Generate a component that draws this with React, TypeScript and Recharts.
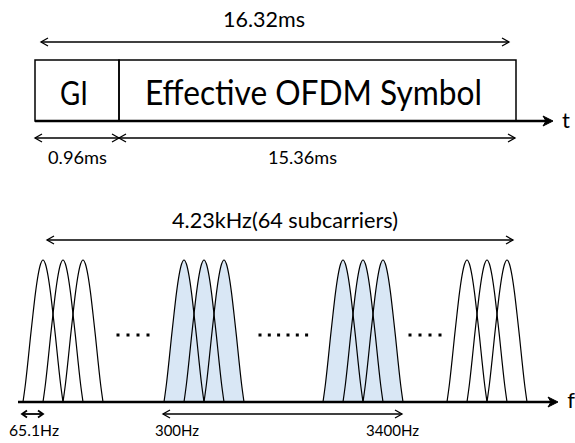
import React from 'react';
import {
  ComposedChart,
  XAxis,
  YAxis,
  Line,
  Area,
  Scatter,
  ReferenceLine,
  ReferenceArea,
} from 'recharts';

// Diagram grid: x to the right, y downwards (same units as the figure)
const W = 575;
const H = 443;
const FONT = 'Lato, "Open Sans", sans-serif';
const BLUE = '#d9e7f5';

// --- time frame ---
const frameEdges = [35, 119, 516]; // GI start | symbol start | symbol end
const frameTop = 60;
const frameBottom = 121;

// --- spectrum ---
const subcarrierGroups = [
  [43, 63, 83],
  [184, 204, 224],
  [343, 363, 383],
  [467, 487, 507],
];
const groupInVoiceBand = [false, true, true, false];
const lobeOffsets = [-1, -0.875, -0.75, -0.625, -0.5, -0.375, -0.25, -0.125, 0, 0.125, 0.25, 0.375, 0.5, 0.625, 0.75, 0.875, 1];
const lobeProfile = [0, 0.13, 0.29, 0.46, 0.62, 0.77, 0.89, 0.97, 1, 0.97, 0.89, 0.77, 0.62, 0.46, 0.29, 0.13, 0];
const lobeHalfWidth = 20;
const lobeHeight = 142;
const spectrumBase = 402;
const gapDots = [
  [118, 128, 138, 148],
  [260, 269.3, 278.6, 288, 297.3, 306.6],
  [410, 420, 430, 440],
];
const gapDotsY = 335;

// --- arrows ---
type Arrow = { x1: number; x2: number; y: number; kind: 'dim' | 'axis' };
const arrows: Arrow[] = [
  { x1: 41, x2: 509, y: 42, kind: 'dim' },
  { x1: 35, x2: 119, y: 138, kind: 'dim' },
  { x1: 119, x2: 515, y: 138, kind: 'dim' },
  { x1: 35, x2: 553, y: 121, kind: 'axis' },
  { x1: 47, x2: 513, y: 240, kind: 'dim' },
  { x1: 18, x2: 558, y: 402, kind: 'axis' },
  { x1: 22, x2: 43, y: 414, kind: 'dim' },
  { x1: 163, x2: 402, y: 414, kind: 'dim' },
];

// --- texts ---
const labels = [
  { text: '16.32ms', x: 264, y: 27, size: 21, width: 82 },
  { text: 'GI', x: 74, y: 105, size: 33, width: 28 },
  { text: 'Effective OFDM Symbol', x: 313.5, y: 105, size: 34, width: 337 },
  { text: 't', x: 566, y: 128, size: 22, width: 0 },
  { text: '0.96ms', x: 77.5, y: 164, size: 17, width: 59 },
  { text: '15.36ms', x: 302.5, y: 164, size: 17, width: 69 },
  { text: '4.23kHz(64 subcarriers)', x: 285, y: 228, size: 21, width: 226 },
  { text: 'f', x: 571, y: 408, size: 22, width: 0 },
  { text: '65.1Hz', x: 34, y: 436, size: 16, width: 50 },
  { text: '300Hz', x: 177, y: 436, size: 16, width: 44 },
  { text: '3400Hz', x: 392.5, y: 436, size: 16, width: 53 },
];

const lobes = subcarrierGroups.flatMap((g, gi) =>
  g.map((c) => ({
    filled: groupInVoiceBand[gi],
    data: lobeOffsets.map((u, i) => ({
      x: c + u * lobeHalfWidth,
      y: spectrumBase - lobeProfile[i] * lobeHeight,
    })),
  }))
);

const dotData = gapDots.flatMap((row) => row.map((x) => ({ x, y: gapDotsY })));

const arrowShape = (kind: 'dim' | 'axis') => (p: any) => {
  const { x1, y1, x2, y2 } = p;
  if (kind === 'axis') {
    return (
      <g>
        <line x1={x1} y1={y1} x2={x2 - 5} y2={y2} stroke="#000" strokeWidth={2.6} />
        <path
          d={`M${x2},${y2} L${x2 - 10},${y2 - 5} L${x2 - 7},${y2} L${x2 - 10},${y2 + 5} Z`}
          fill="#000"
          stroke="#000"
          strokeWidth={1}
          strokeLinejoin="round"
        />
      </g>
    );
  }
  const short = Math.abs(x2 - x1) < 30;
  const h = short ? 5 : 7;
  const w = short ? 3.5 : 4;
  const sw = short ? 1.8 : 1.3;
  return (
    <g fill="none" stroke="#000" strokeWidth={sw}>
      <line x1={x1} y1={y1} x2={x2} y2={y2} />
      <polyline points={`${x1 + h},${y1 - w} ${x1},${y1} ${x1 + h},${y1 + w}`} />
      <polyline points={`${x2 - h},${y2 - w} ${x2},${y2} ${x2 - h},${y2 + w}`} />
    </g>
  );
};

const TextShape = (p: any) => {
  const t = p.payload;
  return (
    <text
      x={p.cx}
      y={p.cy}
      textAnchor="middle"
      fontFamily={FONT}
      fontSize={t.size}
      fill="#000"
      {...(t.width ? { textLength: t.width, lengthAdjust: 'spacingAndGlyphs' } : {})}
    >
      {t.text}
    </text>
  );
};

const DotShape = (p: any) => <rect x={p.cx - 1.5} y={p.cy - 1.5} width={3} height={3} fill="#000" />;

export default function App() {
  return (
    <div style={{ position: 'absolute', left: 0, top: 0, background: '#fff' }}>
      <ComposedChart width={W} height={H} margin={{ top: 0, right: 0, bottom: 0, left: 0 }}>
        <XAxis dataKey="x" type="number" domain={[0, W]} allowDataOverflow hide />
        <YAxis type="number" domain={[0, H]} reversed allowDataOverflow hide />

        {/* frame boxes */}
        <ReferenceArea x1={frameEdges[0]} x2={frameEdges[1]} y1={frameTop} y2={frameBottom} fill="none" stroke="#000" strokeWidth={1.5} />
        <ReferenceArea x1={frameEdges[1]} x2={frameEdges[2]} y1={frameTop} y2={frameBottom} fill="none" stroke="#000" strokeWidth={1.5} />

        {/* subcarrier fills */}
        {lobes
          .filter((l) => l.filled)
          .map((l, i) => (
            <Area
              key={`fill-${i}`}
              data={l.data}
              dataKey="y"
              type="monotone"
              baseValue={spectrumBase}
              stroke="none"
              fill={BLUE}
              fillOpacity={1}
              isAnimationActive={false}
              activeDot={false}
            />
          ))}

        {/* subcarrier outlines */}
        {lobes.map((l, i) => (
          <Line
            key={`lobe-${i}`}
            data={l.data}
            dataKey="y"
            type="monotone"
            stroke="#000"
            strokeWidth={1.2}
            dot={false}
            activeDot={false}
            isAnimationActive={false}
          />
        ))}

        {arrows.map((a, i) => (
          <ReferenceLine
            key={`arrow-${i}`}
            segment={[
              { x: a.x1, y: a.y },
              { x: a.x2, y: a.y },
            ]}
            stroke="#000"
            shape={arrowShape(a.kind)}
          />
        ))}

        <Scatter data={dotData} dataKey="y" shape={DotShape} isAnimationActive={false} />
        <Scatter data={labels} dataKey="y" shape={TextShape} isAnimationActive={false} />
      </ComposedChart>
    </div>
  );
}
